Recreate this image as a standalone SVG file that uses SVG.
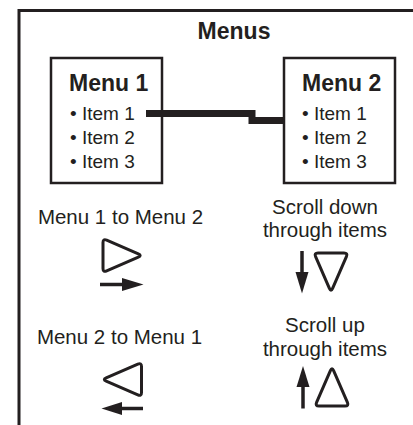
<svg xmlns="http://www.w3.org/2000/svg" width="413" height="425" viewBox="0 0 413 425">
<style>
.frame{fill:none;stroke:#231f20;stroke-width:3}
.box{fill:#fff;stroke:#231f20;stroke-width:2.5}
.title{font-family:"Liberation Sans",Arial,sans-serif;font-weight:bold;font-size:23px;fill:#231f20}
.item{font-family:"Liberation Sans",Arial,sans-serif;font-size:19px;fill:#231f20}
.lbl{font-family:"Liberation Sans",Arial,sans-serif;font-size:20.5px;fill:#231f20;text-anchor:middle}
.conn{fill:none;stroke:#231f20;stroke-width:7;stroke-linejoin:miter;stroke-linecap:butt}
.tri{fill:#fff;stroke:#231f20;stroke-width:3;stroke-linejoin:round}
.shaft{stroke:#231f20;stroke-width:3.5}
.head{fill:#231f20}
</style>
<defs>
<path id="rtri" d="M-19,-13 L-19,13 Q-19,17 -15.33,15.4 L16.33,1.6 Q20,0 16.33,-1.6 L-15.33,-15.4 Q-19,-17 -19,-13 Z"/>
</defs>
<path class="frame" d="M19,425 V10.5 H413"/>
<text class="title" x="234" y="38.5" text-anchor="middle">Menus</text>
<g id="menu1">
<rect class="box" x="51" y="58" width="111" height="125"/>
<text class="title" x="69" y="90.5">Menu 1</text>
<text class="item" x="70" y="120">• Item 1</text>
<text class="item" x="70" y="144">• Item 2</text>
<text class="item" x="70" y="168">• Item 3</text>
</g>
<g id="menu2">
<rect class="box" x="284" y="58" width="111" height="125"/>
<text class="title" x="302" y="90.5">Menu 2</text>
<text class="item" x="302" y="120">• Item 1</text>
<text class="item" x="302" y="144">• Item 2</text>
<text class="item" x="302" y="168">• Item 3</text>
</g>
<g id="connectors">
<polyline class="conn" points="146,113.5 252,113.5 252,120.5 284,120.5"/>
</g>
<g id="legend-right">
<text class="lbl" x="120.5" y="224">Menu 1 to Menu 2</text>
<use href="#rtri" class="tri" transform="translate(122,255.5)"/>
<line class="shaft" x1="100" y1="284.5" x2="123" y2="284.5"/>
<polygon class="head" points="122,278 143.5,284.5 122,291"/>
</g>
<g id="legend-left">
<text class="lbl" x="119.5" y="343.5">Menu 2 to Menu 1</text>
<use href="#rtri" class="tri" transform="translate(122.5,379.5) rotate(180)"/>
<line class="shaft" x1="143" y1="408.5" x2="121" y2="408.5"/>
<polygon class="head" points="122,402 101.5,408.5 122,415"/>
</g>
<g id="legend-down">
<text class="lbl" x="325" y="213.5">Scroll down</text>
<text class="lbl" x="325" y="237">through items</text>
<line class="shaft" x1="302" y1="251" x2="302" y2="273"/>
<polygon class="head" points="295.5,272 308.5,272 302,293.5"/>
<use href="#rtri" class="tri" transform="translate(331,272) rotate(90)"/>
</g>
<g id="legend-up">
<text class="lbl" x="325" y="332">Scroll up</text>
<text class="lbl" x="325" y="355.5">through items</text>
<line class="shaft" x1="303" y1="408.5" x2="303" y2="386"/>
<polygon class="head" points="296.5,387 309.5,387 303,366"/>
<use href="#rtri" class="tri" transform="translate(332,387) rotate(-90)"/>
</g>
</svg>
